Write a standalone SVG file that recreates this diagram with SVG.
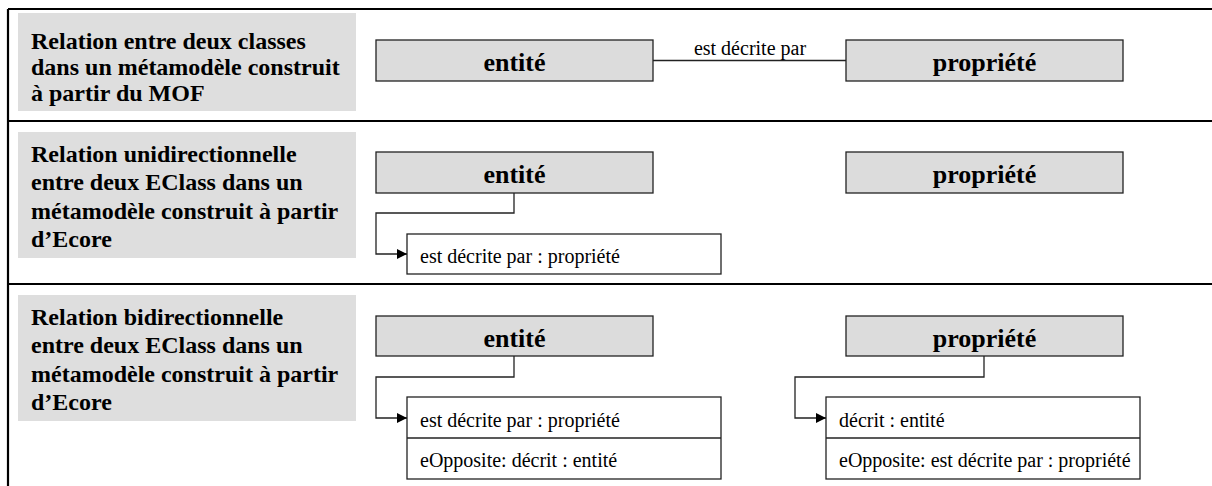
<svg xmlns="http://www.w3.org/2000/svg" width="1212" height="486" viewBox="0 0 1212 486">
<style>
.frame{stroke:#000;stroke-width:2.2;fill:none}
.lbl{fill:#dedede}
.lt{font-family:"Liberation Serif","Times New Roman",serif;font-weight:bold;font-size:24px;fill:#000}
.cls{fill:#dcdcdc;stroke:#222;stroke-width:1.3}
.ct{font-family:"Liberation Serif","Times New Roman",serif;font-weight:bold;font-size:26px;fill:#000;text-anchor:middle}
.attr{fill:#fff;stroke:#222;stroke-width:1.3}
.at{font-family:"Liberation Serif","Times New Roman",serif;font-size:20px;fill:#000}
.conn{stroke:#222;stroke-width:1.3;fill:none}
</style>
<defs>
<marker id="arr" markerWidth="11" markerHeight="11" refX="10" refY="5" orient="auto" markerUnits="userSpaceOnUse">
<path d="M0,0 L10,5 L0,10 z" fill="#000"/>
</marker>
</defs>
<rect width="1212" height="486" fill="#fff"/>
<g id="frame">
<line class="frame" x1="8" y1="9" x2="1212" y2="9"/>
<line class="frame" x1="8" y1="9" x2="8" y2="486"/>
<line class="frame" x1="8" y1="121" x2="1212" y2="121"/>
<line class="frame" x1="8" y1="284" x2="1212" y2="284"/>
</g>
<g id="label1">
<rect class="lbl" x="18" y="13" width="338" height="98"/>
<text class="lt" x="31" y="49">Relation entre deux classes</text>
<text class="lt" x="31" y="75">dans un métamodèle construit</text>
<text class="lt" x="31" y="101">à partir du MOF</text>
</g>
<g id="label2">
<rect class="lbl" x="18" y="132" width="338" height="126"/>
<text class="lt" x="31" y="162">Relation unidirectionnelle</text>
<text class="lt" x="31" y="190">entre deux EClass dans un</text>
<text class="lt" x="31" y="219">métamodèle construit à partir</text>
<text class="lt" x="31" y="247">d’Ecore</text>
</g>
<g id="label3">
<rect class="lbl" x="18" y="295" width="338" height="126"/>
<text class="lt" x="31" y="325">Relation bidirectionnelle</text>
<text class="lt" x="31" y="353">entre deux EClass dans un</text>
<text class="lt" x="31" y="382">métamodèle construit à partir</text>
<text class="lt" x="31" y="410">d’Ecore</text>
</g>
<g id="entite1">
<rect class="cls" x="376" y="40" width="277" height="41"/>
<text class="ct" x="514.5" y="71">entité</text>
</g>
<g id="propriete1">
<rect class="cls" x="846" y="40" width="277" height="41"/>
<text class="ct" x="984.5" y="71">propriété</text>
</g>
<g id="entite2">
<rect class="cls" x="376" y="152" width="277" height="41"/>
<text class="ct" x="514.5" y="183">entité</text>
</g>
<g id="propriete2">
<rect class="cls" x="846" y="152" width="277" height="41"/>
<text class="ct" x="984.5" y="183">propriété</text>
</g>
<g id="attr2">
<rect class="attr" x="407" y="234" width="314" height="40"/>
<text class="at" x="420" y="263">est décrite par : propriété</text>
</g>
<g id="entite3">
<rect class="cls" x="376" y="316" width="277" height="40"/>
<text class="ct" x="514.5" y="347">entité</text>
</g>
<g id="propriete3">
<rect class="cls" x="846" y="316" width="277" height="40"/>
<text class="ct" x="984.5" y="347">propriété</text>
</g>
<g id="attr3a">
<rect class="attr" x="407" y="397" width="314" height="82"/>
<line class="conn" x1="407" y1="438" x2="721" y2="438"/>
<text class="at" x="420" y="427">est décrite par : propriété</text>
<text class="at" x="420" y="467">eOpposite: décrit : entité</text>
</g>
<g id="attr3b">
<rect class="attr" x="826" y="397" width="314" height="82"/>
<line class="conn" x1="826" y1="438" x2="1140" y2="438"/>
<text class="at" x="839" y="427">décrit : entité</text>
<text class="at" x="839" y="467">eOpposite: est décrite par : propriété</text>
</g>
<g id="connectors">
<line class="conn" x1="653" y1="60.5" x2="846" y2="60.5"/>
<text class="at" x="750" y="55" text-anchor="middle" font-size="18">est décrite par</text>
<polyline class="conn" points="514,193 514,213 376,213 376,254 407,254" marker-end="url(#arr)"/>
<polyline class="conn" points="514,356 514,377 376,377 376,418 407,418" marker-end="url(#arr)"/>
<polyline class="conn" points="984,356 984,377 795,377 795,418 826,418" marker-end="url(#arr)"/>
</g>
</svg>
